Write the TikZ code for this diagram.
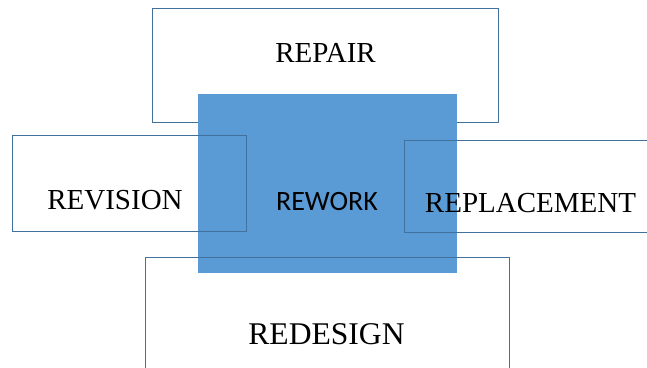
\documentclass[tikz,border=0pt]{standalone}
\usepackage{fontspec}
\setmainfont{Liberation Serif}
\newfontfamily\labelsans{Carlito}
\definecolor{boxline}{HTML}{41719C}
\definecolor{reworkfill}{HTML}{5B9BD5}
\begin{document}
\begin{tikzpicture}[x=1pt,y=-1pt,
  outline/.style={draw=boxline,line width=0.8pt},
  core/.style={fill=reworkfill,draw=none},
  serifword/.style={anchor=base,inner sep=0pt,font=\fontsize{29}{30}\selectfont,text=black},
  sansword/.style={anchor=base,inner sep=0pt,font=\labelsans\fontsize{28}{29}\selectfont,text=black}]
  \useasboundingbox (0,0) rectangle (647,367);
  % outer box behind the central block
  \draw[outline] (152,8.5) rectangle (498,122.5);
  % central filled block
  \fill[core] (198,94) rectangle (457,272.5);
  % outer boxes drawn over the central block
  \draw[outline] (12,135.5) rectangle (246.5,231);
  \draw[outline] (404.5,140.5) rectangle (660,232);
  \draw[outline] (145.5,257.5) rectangle (509,380);
  % labels
  \node[serifword] (repair) at (325.5,62) {REPAIR};
  \node[serifword] (revision) at (115,209) {REVISION};
  \node[serifword] (replacement) at (530.5,212) {REPLACEMENT};
  \node[serifword,font=\fontsize{31.6}{32}\selectfont] (redesign) at (326.5,344) {REDESIGN};
  \node[sansword] (rework) at (327,210) {REWORK};
\end{tikzpicture}
\end{document}
